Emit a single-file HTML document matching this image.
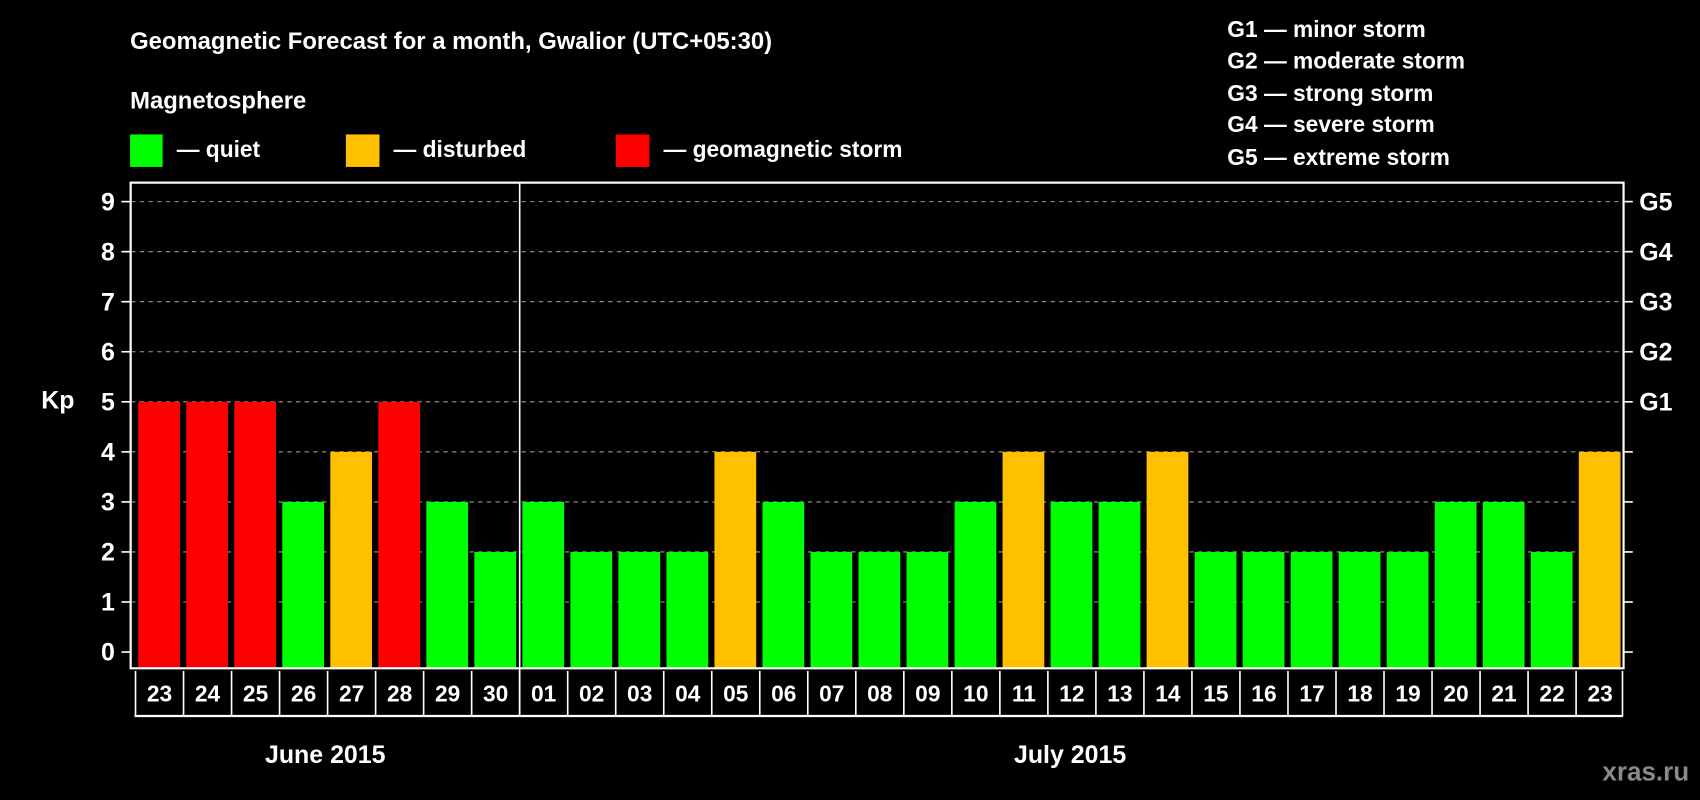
<!DOCTYPE html>
<html><head><meta charset="utf-8"><style>
html,body{margin:0;padding:0;background:#000;width:1700px;height:800px;overflow:hidden}
svg text{font-family:"Liberation Sans",Arial,sans-serif;font-weight:bold;fill:#fff}
</style></head><body>
<svg id="chart" width="1700" height="800" viewBox="0 0 1568 738" preserveAspectRatio="none" xmlns="http://www.w3.org/2000/svg">
<rect width="1568" height="738" fill="#000"/>
<text x="120" y="45" font-size="22">Geomagnetic Forecast for a month, Gwalior (UTC+05:30)</text>
<text x="120" y="100" font-size="22">Magnetosphere</text>
<rect x="120" y="124" width="30" height="30" fill="#00ff00"/>
<text x="163" y="145" font-size="21">— quiet</text>
<rect x="319" y="124" width="31" height="30" fill="#ffc000"/>
<text x="363" y="145" font-size="21">— disturbed</text>
<rect x="568" y="124" width="31" height="30" fill="#ff0000"/>
<text x="612" y="145" font-size="21">— geomagnetic storm</text>
<g font-size="21">
<text x="1132" y="34">G1 — minor storm</text>
<text x="1132" y="63">G2 — moderate storm</text>
<text x="1132" y="93">G3 — strong storm</text>
<text x="1132" y="122">G4 — severe storm</text>
<text x="1132" y="152">G5 — extreme storm</text>
</g>
<g id="grid"></g>
<g id="bars"></g>
<g id="xaxis"></g>
<rect x="120.5" y="168.5" width="1377" height="448" fill="none" stroke="#fff" stroke-width="2"/>
<text x="38" y="377" font-size="23">Kp</text>
<text x="300" y="704" font-size="23" text-anchor="middle">June 2015</text>
<text x="987" y="704" font-size="23" text-anchor="middle">July 2015</text>
<text x="1558" y="720" font-size="24" text-anchor="end" style="fill:#8a8a8a">xras.ru</text>
</svg>
<script>
const days = ["23","24","25","26","27","28","29","30","01","02","03","04","05","06","07","08","09","10","11","12","13","14","15","16","17","18","19","20","21","22","23"];
const kpValues = [5,5,5,3,4,5,3,2,3,2,2,2,4,3,2,2,2,3,4,3,3,4,2,2,2,2,2,3,3,2,4];
const yTicks = [0,1,2,3,4,5,6,7,8,9];
const gLabels = ["","","","","","G1","G2","G3","G4","G5"];
const monthBreakIndex = 8;

const NS = "http://www.w3.org/2000/svg";
const x0 = 124, pitch = (1497 - 124) / days.length;
const yScale = v => 601.5 - v * (601.5 - 186) / 9;
const xCell = i => x0 + i * pitch;
function mk(tag, attrs, parent) {
  const e = document.createElementNS(NS, tag);
  for (const k in attrs) e.setAttribute(k, attrs[k]);
  parent.appendChild(e);
  return e;
}
const grid = document.getElementById('grid');
yTicks.forEach((t, i) => {
  const y = yScale(t);
  if (t > 0) {
    const gl = mk('line', {x1: 121, x2: 1497, y1: y, y2: y, stroke: '#9a9a9a', 'stroke-width': 1, 'stroke-dasharray': '4,4'}, grid);
    
    
  }
  const lt = mk('line', {x1: 112, x2: 120, y1: y, y2: y, stroke: '#fff', 'stroke-width': 1.5}, grid);
  
  
  const rt = mk('line', {x1: 1498, x2: 1506, y1: y, y2: y, stroke: '#fff', 'stroke-width': 1.5}, grid);
  
  
  const tl = mk('text', {x: 106, y: y + 8, 'font-size': 23, 'text-anchor': 'end'}, grid);
  tl.textContent = t;
  
  
  if (gLabels[i]) {
    const g = mk('text', {x: 1512, y: y + 8, 'font-size': 23}, grid);
    g.textContent = gLabels[i];
    
    
  }
});
const bars = document.getElementById('bars');
kpValues.forEach((v, i) => {
  const col = v >= 5 ? '#ff0000' : (v === 4 ? '#ffc000' : '#00ff00');
  const top = yScale(v);
  const b = mk('rect', {x: xCell(i) + 3.5, y: top, width: 38.5, height: 616 - top, fill: col}, bars);
  
  
});
const sep = mk('line', {x1: xCell(monthBreakIndex) + 1, x2: xCell(monthBreakIndex) + 1, y1: 169, y2: 661, stroke: '#fff', 'stroke-width': 1.5}, bars);


const xa = document.getElementById('xaxis');
const row = mk('line', {x1: 124, x2: 1497, y1: 660.5, y2: 660.5, stroke: '#fff', 'stroke-width': 2}, xa);


days.forEach((d, i) => {
  const xl = xCell(i);
  const bl = mk('line', {x1: xl + 1, x2: xl + 1, y1: 619, y2: 661, stroke: '#fff', 'stroke-width': 1.5}, xa);
  
  
  const t = mk('text', {x: xl + pitch / 2 + 1, y: 647, 'font-size': 21, 'text-anchor': 'middle'}, xa);
  t.textContent = d;
  
  
});
const endB = mk('line', {x1: 1496.5, x2: 1496.5, y1: 619, y2: 661, stroke: '#fff', 'stroke-width': 1.5}, xa);


</script>
</body></html>
